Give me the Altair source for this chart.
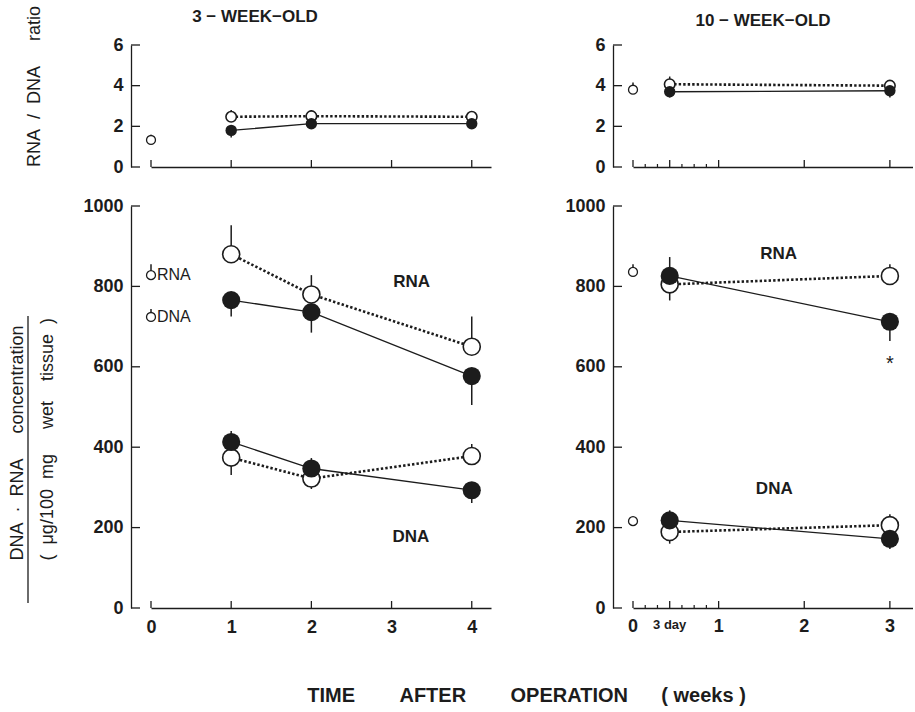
import altair as alt
import pandas as pd

# ---------------- data ----------------
# 3-WEEK-OLD rats : weeks after operation
weeks_3w = [1, 2, 4]
ratio_sham_3w = [2.47, 2.50, 2.47]
ratio_sham_err_3w = [0.33, 0.30, 0.28]
ratio_op_3w = [1.80, 2.13, 2.13]
ratio_op_err_3w = [-0.35, -0.10, -0.10]
rna_sham_3w = [880, 780, 650]
rna_sham_err_3w = [72, 48, 75]
rna_op_3w = [766, 736, 577]
rna_op_err_3w = [-41, -51, -72]
dna_sham_3w = [374, 322, 378]
dna_sham_err_3w = [-43, -26, 30]
dna_op_3w = [413, 347, 293]
dna_op_err_3w = [27, 26, -32]

# control values at week 0 (ratio, RNA, DNA)
ctrl_series = ["ratio", "RNA", "DNA"]
ctrl_3w = [1.33, 828, 724]
ctrl_err_3w = [0.25, 27, 20]

# 10-WEEK-OLD rats : 3 days and 3 weeks after operation
weeks_10w = [3 / 7, 3]
ratio_sham_10w = [4.07, 4.00]
ratio_sham_err_10w = [0.38, 0.24]
ratio_op_10w = [3.70, 3.75]
ratio_op_err_10w = [-0.28, -0.33]
rna_sham_10w = [805, 826]
rna_sham_err_10w = [-40, 29]
rna_op_10w = [826, 712]
rna_op_err_10w = [47, -48]
dna_sham_10w = [189, 206]
dna_sham_err_10w = [-29, 27]
dna_op_10w = [218, 172]
dna_op_err_10w = [25, -25]
ctrl_10w = [3.80, 836, 216]
ctrl_err_10w = [0.36, 19, 6]

# in-panel labels
ann_labels = ["RNA", "DNA"]
ann_week_3w = [3.25, 3.24]
ann_value_3w = [811, 177]
ann_week_10w = [1.70, 1.65]
ann_value_10w = [880, 296]
sig_week_10w = [3]
sig_value_10w = [616]

# axis ticks and tick labels
ticks_3w = [0, 1, 2, 3, 4]
ticks_10w_major = [0, 3 / 7, 1, 2, 3]
ticks_10w_minor = [1 / 7, 2 / 7, 4 / 7, 5 / 7, 6 / 7]
xlabel_weeks_10w = [0, 1, 2, 3]
xlabel_text_10w = ["0", "1", "2", "3"]
day_label_week = [3 / 7]
day_label_text = ["3 day"]
yticks_ratio = [0, 2, 4, 6]
yticks_conc = [0, 200, 400, 600, 800, 1000]

# ---------------- styling ----------------
INK = "#1c1c1c"
NUM_FONT = "Liberation Sans, Arial, Helvetica, sans-serif"
TXT_FONT = "Liberation Sans, Arial, Helvetica, sans-serif"
NB = "\u00a0"
LAB = 18


def make_frame(weeks, series, group, vals, errs):
    return pd.DataFrame({
        "week": list(weeks),
        "series": series,
        "group": group,
        "value": list(vals),
        "end": [v + e for v, e in zip(vals, errs)],
    })


def ctrl_frame(vals, errs, keep):
    rows = [(s, v, e) for s, v, e in zip(ctrl_series, vals, errs) if s in keep]
    return pd.DataFrame({
        "week": [0] * len(rows),
        "series": [r[0] for r in rows],
        "group": "ctrl",
        "value": [r[1] for r in rows],
        "end": [r[1] + r[2] for r in rows],
    })


def y_axis(values, title, title_x, title_y, align, line_height=None):
    kw = dict(
        values=values, tickCount=20, ticks=False, offset=20, labelPadding=8,
        labelFont=NUM_FONT, labelFontSize=LAB, labelFontWeight="bold",
        labelColor=INK, labelOverlap=False, domainColor=INK, domainWidth=1.3,
        grid=False, format="d",
        title=title, titleX=title_x, titleY=title_y, titleAngle=270,
        titleAlign=align, titleBaseline="middle", titleFont=TXT_FONT,
        titleFontSize=18, titleFontWeight="normal", titleColor=INK,
    )
    if line_height:
        kw["titleLineHeight"] = line_height
    return alt.Axis(**kw)


def x_axis(values, labels=True):
    return alt.Axis(
        values=values, tickCount=20, ticks=False, labels=labels, labelPadding=10,
        labelFlush=False, labelOverlap=False, labelFont=NUM_FONT,
        labelFontSize=LAB, labelFontWeight="bold", labelColor=INK,
        domainColor=INK, domainWidth=1.3, grid=False, title=None,
        format="d",
    )


def panel(main, ctrl, xscale, xaxis, ydomain, yaxis, width, height,
          major_ticks, minor_ticks, yticks, big, small, title=None,
          texts=None, ctrl_text=False, sig=None, bar=False, manual_labels=None):
    X = alt.X("week:Q", scale=xscale, axis=xaxis)
    Y = alt.Y("value:Q", scale=alt.Scale(domain=ydomain, nice=False, zero=False), axis=yaxis)
    sham = main[main.group == "sham"]
    op = main[main.group == "op"]
    layers = [
        alt.Chart(sham).mark_line(strokeDash=[2.4, 2.1], strokeWidth=2.6, color=INK)
        .encode(X, Y, detail="series:N", order="week:Q"),
        alt.Chart(op).mark_line(strokeWidth=1.3, color=INK)
        .encode(X, Y, detail="series:N", order="week:Q"),
        alt.Chart(pd.concat([main, ctrl])).mark_rule(strokeWidth=1.5, color=INK)
        .encode(X, Y, y2="end:Q"),
        alt.Chart(sham).mark_circle(fill="white", stroke=INK, strokeWidth=1.6, size=big[0], opacity=1)
        .encode(X, Y),
        alt.Chart(ctrl).mark_circle(fill="white", stroke=INK, strokeWidth=1.3, size=small, opacity=1)
        .encode(X, Y),
        alt.Chart(op).mark_circle(color=INK, size=big[1], opacity=1).encode(X, Y),
        alt.Chart(pd.DataFrame({"week": major_ticks})).mark_rule(strokeWidth=1.3, color=INK)
        .encode(X, y=alt.value(height), y2=alt.value(height - 7)),
        alt.Chart(pd.DataFrame({"value": yticks})).mark_rule(strokeWidth=1.3, color=INK)
        .encode(Y, x=alt.value(-20), x2=alt.value(-11)),
    ]
    if minor_ticks:
        layers.append(
            alt.Chart(pd.DataFrame({"week": minor_ticks})).mark_rule(strokeWidth=1.2, color=INK)
            .encode(X, y=alt.value(height), y2=alt.value(height - 3))
        )
    if manual_labels is not None:
        for df, fs in manual_labels:
            layers.append(
                alt.Chart(df).mark_text(align="center", baseline="top", font=NUM_FONT,
                                        fontSize=fs, fontWeight="bold", color=INK)
                .encode(X, y=alt.value(height + 10 + (LAB - fs) * 0.1), text="label:N")
            )
    if ctrl_text:
        layers.append(
            alt.Chart(ctrl).mark_text(align="left", baseline="middle", dx=6, font=TXT_FONT,
                                      fontSize=16, color=INK)
            .encode(X, Y, text="series:N")
        )
    if texts is not None:
        layers.append(
            alt.Chart(texts).mark_text(align="center", baseline="middle", font=TXT_FONT,
                                       fontSize=17, fontWeight="bold", color=INK)
            .encode(X, Y, text="label:N")
        )
    if sig is not None:
        layers.append(
            alt.Chart(sig).mark_text(align="center", baseline="middle", font=TXT_FONT,
                                     fontSize=20, color=INK, dy=4)
            .encode(X, Y, text=alt.value("*"))
        )
    if bar:
        layers.append(
            alt.Chart(pd.DataFrame({"bar": [0]})).mark_rule(strokeWidth=1.3, color=INK)
            .encode(x=alt.value(-123), y=alt.value(110), y2=alt.value(397))
        )
    ch = alt.layer(*layers).properties(width=width, height=height)
    if title is not None:
        ch = ch.properties(title=title)
    return ch


# ---------------- frames ----------------
ratio_3w = pd.concat([
    make_frame(weeks_3w, "ratio", "sham", ratio_sham_3w, ratio_sham_err_3w),
    make_frame(weeks_3w, "ratio", "op", ratio_op_3w, ratio_op_err_3w),
])
conc_3w = pd.concat([
    make_frame(weeks_3w, "RNA", "sham", rna_sham_3w, rna_sham_err_3w),
    make_frame(weeks_3w, "RNA", "op", rna_op_3w, rna_op_err_3w),
    make_frame(weeks_3w, "DNA", "sham", dna_sham_3w, dna_sham_err_3w),
    make_frame(weeks_3w, "DNA", "op", dna_op_3w, dna_op_err_3w),
])
ratio_10w = pd.concat([
    make_frame(weeks_10w, "ratio", "sham", ratio_sham_10w, ratio_sham_err_10w),
    make_frame(weeks_10w, "ratio", "op", ratio_op_10w, ratio_op_err_10w),
])
conc_10w = pd.concat([
    make_frame(weeks_10w, "RNA", "sham", rna_sham_10w, rna_sham_err_10w),
    make_frame(weeks_10w, "RNA", "op", rna_op_10w, rna_op_err_10w),
    make_frame(weeks_10w, "DNA", "sham", dna_sham_10w, dna_sham_err_10w),
    make_frame(weeks_10w, "DNA", "op", dna_op_10w, dna_op_err_10w),
])
ann_3w = pd.DataFrame({"label": ann_labels, "week": ann_week_3w, "value": ann_value_3w})
ann_10w = pd.DataFrame({"label": ann_labels, "week": ann_week_10w, "value": ann_value_10w})
sig_10w = pd.DataFrame({"week": sig_week_10w, "value": sig_value_10w})
xlab_10w = pd.DataFrame({"week": xlabel_weeks_10w, "label": xlabel_text_10w})
daylab_10w = pd.DataFrame({"week": day_label_week, "label": day_label_text})

# ---------------- scales ----------------
LW, RW, TH, BH = 340, 280, 122, 402
xs_3w = alt.Scale(domain=[0, 4.24], nice=False, zero=False)
xs_10w = alt.Scale(domain=[0, 3.27], nice=False, zero=False)


def ptitle(text, dx, offset):
    return alt.TitleParams(text, font=TXT_FONT, fontSize=17, fontWeight="bold", color=INK,
                           anchor="middle", frame="group", dx=dx, offset=offset)


tl = panel(ratio_3w, ctrl_frame(ctrl_3w, ctrl_err_3w, ["ratio"]), xs_3w,
           x_axis(ticks_3w, labels=False), [0, 6],
           y_axis(yticks_ratio, "RNA" + NB * 2 + "/" + NB * 2 + "DNA" + NB * 5 + "ratio", -97, 41, "center"),
           LW, TH, ticks_3w, None, yticks_ratio, (110, 130), 80,
           title=ptitle("3" + NB + "\u2212" + NB + "WEEK\u2212OLD", -66, -21))

tr = panel(ratio_10w, ctrl_frame(ctrl_10w, ctrl_err_10w, ["ratio"]), xs_10w,
           x_axis(ticks_10w_major, labels=False), [0, 6],
           y_axis(yticks_ratio, None, 0, 0, "center"),
           RW, TH, ticks_10w_major, ticks_10w_minor, yticks_ratio, (110, 130), 80,
           title=ptitle("10" + NB + "\u2212" + NB + "WEEK\u2212OLD", -10, 6))

bl = panel(conc_3w, ctrl_frame(ctrl_3w, ctrl_err_3w, ["RNA", "DNA"]), xs_3w,
           x_axis(ticks_3w), [0, 1000],
           y_axis(yticks_conc,
                  ["DNA" + NB * 2 + "\u00b7" + NB * 2 + "RNA" + NB * 5 + "concentration",
                   "(" + NB * 2 + "\u03bcg/100" + NB * 2 + "mg" + NB * 5 + "wet" + NB * 4 + "tissue" + NB * 2 + ")"],
                  -114, 354, "left", 30),
           LW, BH, ticks_3w, None, yticks_conc, (290, 330), 80,
           texts=ann_3w, ctrl_text=True, bar=True)

br = panel(conc_10w, ctrl_frame(ctrl_10w, ctrl_err_10w, ["RNA", "DNA"]), xs_10w,
           x_axis(ticks_10w_major, labels=False), [0, 1000],
           y_axis(yticks_conc, None, 0, 0, "center"),
           RW, BH, ticks_10w_major, ticks_10w_minor, yticks_conc, (290, 330), 80,
           texts=ann_10w, sig=sig_10w,
           manual_labels=[(xlab_10w, LAB), (daylab_10w, 13)])

xtitle = ("TIME" + NB * 8 + "AFTER" + NB * 8 + "OPERATION" + NB * 6 + "(" + NB + "weeks" + NB + ")")

chart = alt.concat(
    tl, tr, bl, br, columns=2, align="each",
    spacing={"row": 21, "column": 73},
).properties(
    padding={"left": 8, "top": 5, "right": 0, "bottom": 4},
    background="white",
    title=alt.TitleParams(xtitle, orient="bottom", anchor="middle", font=TXT_FONT,
                          fontSize=20, fontWeight="bold", color=INK, offset=50, dx=66),
).configure_view(stroke=None)

chart.save("out.html", embed_options={"renderer": "svg", "actions": False})
